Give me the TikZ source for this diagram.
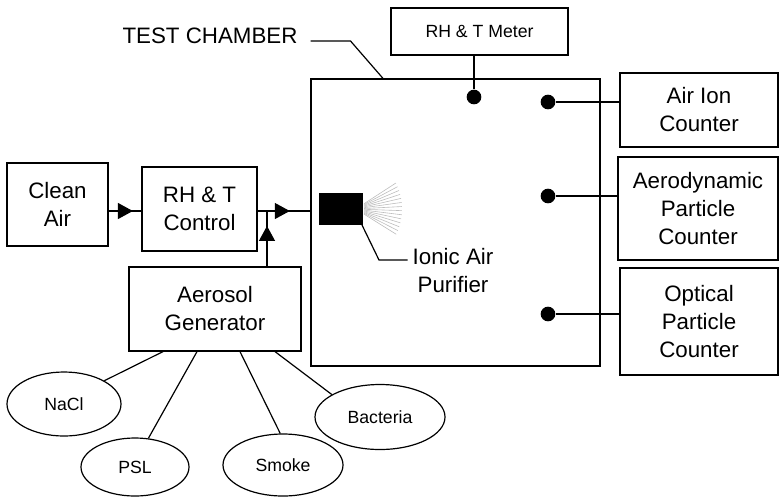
\documentclass[tikz,border=0pt]{standalone}
\usepackage{fontspec}
\setmainfont{Liberation Sans}
\usepackage{tikz}
\usetikzlibrary{arrows.meta,decorations.markings,shapes.geometric}
\definecolor{inkblack}{HTML}{000000}
\definecolor{fangray}{HTML}{BDBDBD}
\newcommand{\bigtext}{\fontsize{16.75}{21}\selectfont}
\newcommand{\smalltext}{\fontsize{13.25}{15}\selectfont}

\begin{document}
\begin{tikzpicture}[x=0.75pt,y=-0.75pt,line width=0.9pt,
    box/.style={draw, rectangle, align=center, font=\bigtext, inner sep=0pt},
    blob/.style={draw, ellipse, font=\smalltext, inner sep=0pt},
    probe/.style={circle, fill=inkblack, inner sep=0pt, minimum width=10pt, minimum height=11pt},
    midarrow/.style={postaction={decorate}, decoration={markings,
        mark=at position #1 with {\arrow{Triangle[length=11.25pt,width=12pt]}}}}]
    \useasboundingbox (0,0) rectangle (781,497);

    % Test chamber
    \node[box, minimum width=216.75pt, minimum height=215.25pt] (chamber) at (455.5,222.5) {};
    \node[font=\bigtext, anchor=center] (lbl) at (210,36) {TEST CHAMBER};
    \draw (lbl.east) ++(8,5) -- ++(40,0) -- (chamber.north -| 383,0);

    % Supply line
    \node[box, minimum width=75.75pt, minimum height=62.25pt] (clean) at (57.5,204.5) {Clean\\Air};
    \node[box, minimum width=86.25pt, minimum height=63pt] (ctrl) at (199.5,209) {RH \& T\\Control};
    \node[box, minimum width=129pt, minimum height=63pt] (aero) at (215,309) {Aerosol\\Generator};
    \coordinate (join) at (267,211);
    \draw[midarrow=0.74] (clean.east |- join) -- (ctrl.west |- join);
    \draw[midarrow=0.61] (ctrl.east |- join) -- (chamber.west |- join);
    \draw[midarrow=0.73] (aero.north -| join) -- (join);

    % Aerosol sources
    \node[blob, minimum width=85.5pt, minimum height=48pt] (nacl) at (64,404) {NaCl};
    \node[blob, minimum width=81pt, minimum height=43.5pt] (psl) at (135,467) {PSL};
    \node[blob, minimum width=90pt, minimum height=46.5pt] (smoke) at (283,465) {Smoke};
    \node[blob, minimum width=97.5pt, minimum height=48.75pt] (bact) at (380,417) {Bacteria};
    \draw (aero.south -| 163,0) -- (nacl.30);
    \draw (aero.south -| 197,0) -- (psl.65);
    \draw (aero.south -| 240,0) -- (smoke.95);
    \draw (aero.south -| 275,0) -- (bact.155);

    % Ionic air purifier
    \fill[inkblack] (319,193) rectangle (363,225);
    \coordinate (fan) at (364,209);
    \foreach \a in {-33,-28,...,35} {
        \draw[fangray, line width=0.45pt] ([yshift=-0.12*\a pt]fan) -- ++(\a:38);
    }
    \node[font=\bigtext, align=center] (purifier) at (453,271) {Ionic Air\\Purifier};
    \draw (362,225) -- (379,260) -- (purifier.west |- 379,260);

    % Meters and counters
    \node[box, font=\smalltext, minimum width=132.75pt, minimum height=35.25pt] (meter) at (479.5,31.5) {RH \& T Meter};
    \node[box, minimum width=118.5pt, minimum height=55.5pt] (ion) at (699,110) {Air Ion\\Counter};
    \node[box, minimum width=120pt, minimum height=77.25pt] (aps) at (698,208.5) {Aerodynamic\\Particle\\Counter};
    \node[box, minimum width=118.5pt, minimum height=80.25pt] (opc) at (699,321.5) {Optical\\Particle\\Counter};
    \node[probe] (mdot) at (474,97) {};
    \node[probe] (idot) at (548,102) {};
    \node[probe] (adot) at (548,196) {};
    \node[probe] (odot) at (548,314) {};
    \draw (mdot) -- (mdot |- meter.south);
    \draw (idot) -- (idot -| ion.west);
    \draw (adot) -- (adot -| aps.west);
    \draw (odot) -- (odot -| opc.west);
\end{tikzpicture}
\end{document}
